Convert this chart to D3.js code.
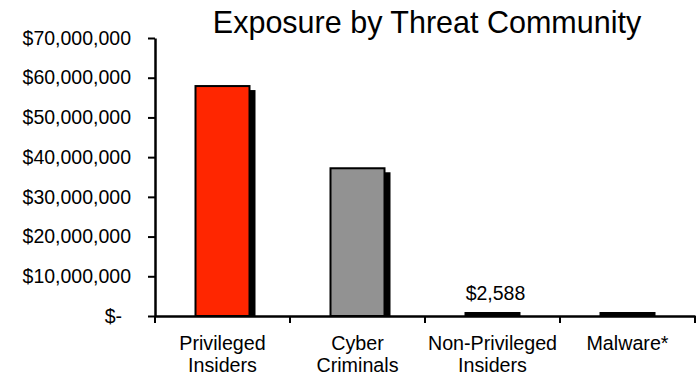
<!DOCTYPE html>
<html><head><meta charset="utf-8">
<script src="https://cdn.jsdelivr.net/npm/d3@7"></script>
<style>
body{margin:0;background:#fff;}
svg{display:block;font-family:"Liberation Sans",Arial,sans-serif;}
</style></head>
<body>
<svg id="c" width="698" height="376"></svg>
<script>
const categories = [["Privileged","Insiders"],["Cyber","Criminals"],["Non-Privileged","Insiders"],["Malware*"]];
const values = [57900000, 37200000, 2588, 1500];
const barColors = ["#ff2600","#929292","#000000","#000000"];
const dataLabels = [null, null, "$2,588", null];
const yTicks = [0,10000000,20000000,30000000,40000000,50000000,60000000,70000000];
const title = "Exposure by Threat Community";

const svg = d3.select("#c");
const keys = categories.map(c => c.join(" "));
const x = d3.scaleBand().domain(keys).range([155, 695]).paddingInner(0.6).paddingOuter(0.3);
const y = d3.scaleLinear().domain([0, 70000000]).range([316, 38]);

const fmt = v => v === 0 ? "$-" : "$" + d3.format(",")(v);

// title
svg.append("text").attr("x", 427).attr("y", 33).attr("text-anchor","middle")
  .attr("font-size", 30.5).attr("fill","#000").text(title);

// y axis
const yAxis = d3.axisLeft(y).tickValues(yTicks).tickSize(7).tickSizeOuter(0).tickFormat(fmt);
const gy = svg.append("g").attr("transform","translate(155,0)").call(yAxis);
gy.attr("font-family", null).attr("font-size", null);
gy.select(".domain").attr("stroke","#000").attr("stroke-width",2.5);
gy.selectAll(".tick line").attr("stroke","#000").attr("stroke-width",2);
gy.selectAll(".tick text").attr("font-size",19.5).attr("fill","#000").attr("x",-24)
  .attr("dx", d => d === 0 ? -9 : 0);

// bars with shadow
const bars = svg.append("g");
const minH = 3;
keys.forEach((k,i) => {
  const v = values[i];
  const top = Math.min(y(v), y(0) - minH);
  const x0 = x(k), w = x.bandwidth();
  const sTop = top + 4;
  if (y(0) - sTop > 0) {
    bars.append("rect").attr("x", x0 + 6).attr("y", sTop).attr("width", w).attr("height", y(0) - sTop)
      .attr("fill","#000");
  }
  bars.append("rect").attr("x", x0).attr("y", top).attr("width", w).attr("height", y(0) - top)
    .attr("fill", barColors[i]).attr("stroke","#000").attr("stroke-width",2);
  if (dataLabels[i]) {
    svg.append("text").attr("x", x0 + w/2 + 3).attr("y", 300).attr("text-anchor","middle")
      .attr("font-size",19.5).attr("fill","#000").text(dataLabels[i]);
  }
});

// x axis
const xAxis = d3.axisBottom(x).tickSize(0).tickFormat("");
const gx = svg.append("g").attr("transform","translate(0,316)").call(xAxis);
gx.select(".domain").attr("stroke","#000").attr("stroke-width",2.5);
const bounds = d3.range(keys.length + 1).map(i => 155 + i * x.step());
gx.selectAll(".bt").data(bounds).enter().append("line")
  .attr("x1", d => d).attr("x2", d => d).attr("y1", 0).attr("y2", 7)
  .attr("stroke","#000").attr("stroke-width",2);
keys.forEach((k,i) => {
  const t = svg.append("text").attr("text-anchor","middle").attr("font-size",19.7).attr("fill","#000");
  categories[i].forEach((line,j) => {
    t.append("tspan").attr("x", x(k) + x.bandwidth()/2).attr("y", 350 + j*21.5).text(line);
  });
});
</script>
</body></html>
